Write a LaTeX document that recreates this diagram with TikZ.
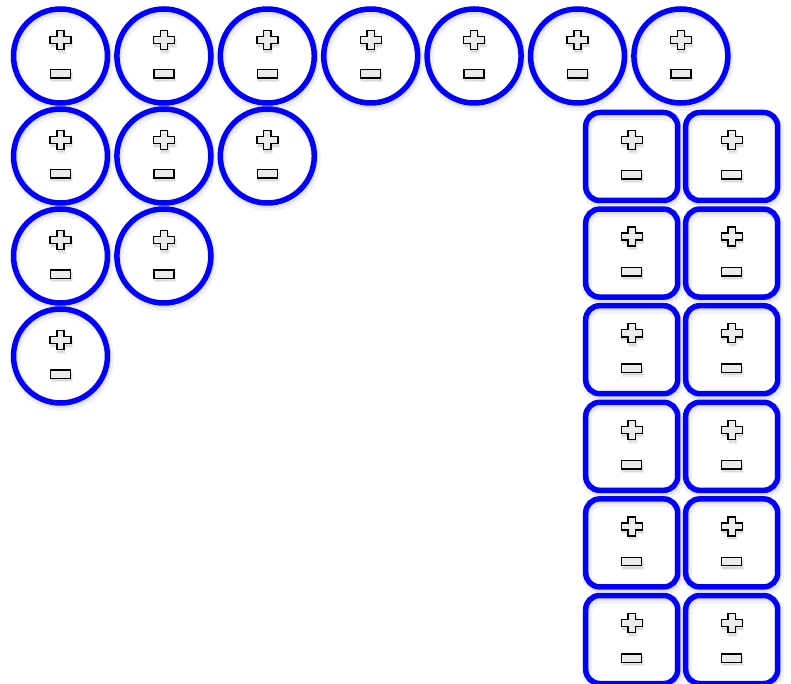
\documentclass[tikz,border=0pt]{standalone}
\begin{document}
\begin{tikzpicture}[x=1pt,y=-1pt,
  ring/.style={circle, draw=blue, line width=5.5pt, minimum size=94pt, inner sep=0pt},
  tile/.style={rectangle, rounded corners=14pt, draw=blue, line width=5.5pt, minimum width=92pt, minimum height=88pt, inner sep=0pt},
  shade1/.style={draw=black, opacity=0.05, line width=10pt},
  shade2/.style={draw=black, opacity=0.08, line width=6pt},
  symb/.style={draw=black, line width=1.4pt, fill=gray!16, line join=miter},
  symshade/.style={fill=black, opacity=0.10, draw=black, draw opacity=0.06, line width=2.5pt},
  plussym/.pic={
    \path[symshade, shift={(1,3)}] (-3.6,-9.5) -- (3.6,-9.5) -- (3.6,-3.6) -- (10.5,-3.6) -- (10.5,3.6) -- (3.6,3.6) -- (3.6,9.5) -- (-3.6,9.5) -- (-3.6,3.6) -- (-10.5,3.6) -- (-10.5,-3.6) -- (-3.6,-3.6) -- cycle;
    \path[symb] (-3.6,-9.5) -- (3.6,-9.5) -- (3.6,-3.6) -- (10.5,-3.6) -- (10.5,3.6) -- (3.6,3.6) -- (3.6,9.5) -- (-3.6,9.5) -- (-3.6,3.6) -- (-10.5,3.6) -- (-10.5,-3.6) -- (-3.6,-3.6) -- cycle;
  },
  minussym/.pic={
    \path[symshade, shift={(1,3)}] (-10,-4.2) rectangle (10,4.2);
    \path[symb] (-10,-4.2) rectangle (10,4.2);
  }
]
\useasboundingbox (0,0) rectangle (791,684);
\clip (0,0) rectangle (791,684);
% circles
\foreach \r/\n in {1/7,2/3,3/2,4/1}{
  \foreach \k in {1,...,\n}{
    \pgfmathsetmacro\xx{60.5+103.4*(\k-1)}
    \pgfmathsetmacro\yy{56+100*(\r-1)}
    \draw[shade1] (\xx+1.5,\yy+3) circle (47);
    \draw[shade2] (\xx+1,\yy+2) circle (47);
    \node[ring] (c-\r-\k) at (\xx,\yy) {};
    \pic at ([yshift=16pt]c-\r-\k.center) {plussym};
    \pic at ([yshift=-18pt]c-\r-\k.center) {minussym};
  }
}
% tiles
\foreach \r in {1,...,6}{
  \foreach \k in {1,2}{
    \pgfmathsetmacro\xx{631.7+100*(\k-1)}
    \pgfmathsetmacro\yy{156.5+96.6*(\r-1)}
    \draw[shade1, rounded corners=14pt] (\xx-46+1.5,\yy-44+3) rectangle (\xx+46+1.5,\yy+44+3);
    \draw[shade2, rounded corners=14pt] (\xx-46+1,\yy-44+2) rectangle (\xx+46+1,\yy+44+2);
    \node[tile] (t-\r-\k) at (\xx,\yy) {};
    \pic at ([yshift=16.5pt]t-\r-\k.center) {plussym};
    \pic at ([yshift=-18.5pt]t-\r-\k.center) {minussym};
  }
}
\end{tikzpicture}
\end{document}
